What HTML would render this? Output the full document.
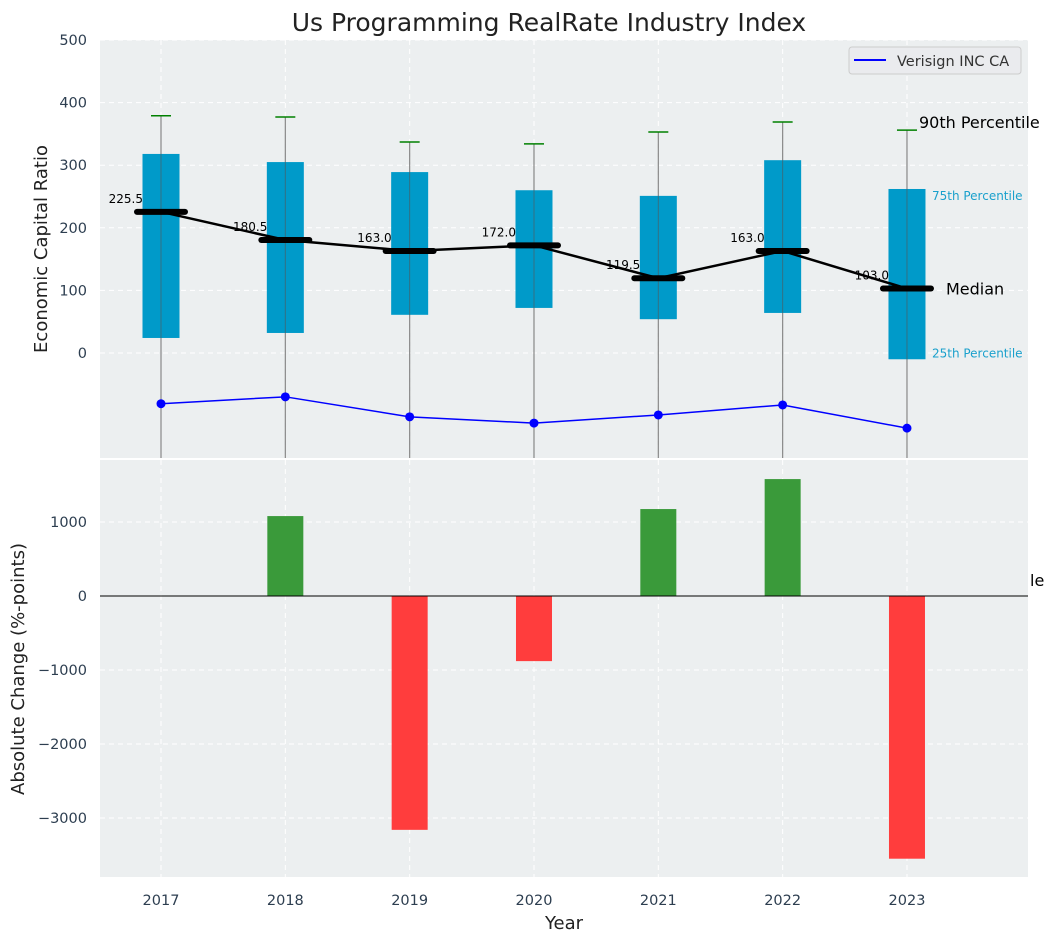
<!DOCTYPE html>
<html><head><meta charset="utf-8"><style>
body{margin:0;background:#fff;font-family:"Liberation Sans","DejaVu Sans",sans-serif}
</style></head><body>
<svg id="c" width="1054" height="942" xmlns="http://www.w3.org/2000/svg" font-family="DejaVu Sans, Liberation Sans, sans-serif"></svg>
<script>
const years=["2017","2018","2019","2020","2021","2022","2023"];
const q25=[24,32,61,72,54,64,-10];
const q75=[318,305,289,260,251,308,262];
const p90=[379,377,337,334,353,369,356];
const medians=[225.5,180.5,163.0,172.0,119.5,163.0,103.0];
const verisign=[-81,-70,-102,-112,-99,-83,-120];
const changes=[0,1080,-3160,-880,1175,1580,-3550];
const topTicks=[0,100,200,300,400,500];
const botTicks=[-3000,-2000,-1000,0,1000];

const svg=document.getElementById('c');
const NS='http://www.w3.org/2000/svg';
function mk(t,a,p){const e=document.createElementNS(NS,t);for(const k in a)e.setAttribute(k,a[k]);(p||svg).appendChild(e);return e;}
const L=100,R=1028;
const x=i=>161+i*124.33;
const yT=v=>353-v*0.626;
const yB=v=>596-v*0.074;
const T0=40,T1=458,B0=460,B1=877;

let e=mk('rect',{x:L,y:T0,width:R-L,height:T1-T0,fill:'#eceff0'});

e=mk('rect',{x:L,y:B0,width:R-L,height:B1-B0,fill:'#eceff0'});


years.forEach((y,i)=>{
 mk('line',{x1:x(i),x2:x(i),y1:T0,y2:T1,stroke:'#fff','stroke-dasharray':'5,4','stroke-width':1});
 mk('line',{x1:x(i),x2:x(i),y1:B0,y2:B1,stroke:'#fff','stroke-dasharray':'5,4','stroke-width':1});
 e=mk('text',{x:x(i),y:905,'text-anchor':'middle','font-size':14.5,fill:'#2d3e50'});e.textContent=y;
 
});
topTicks.forEach(v=>{
 mk('line',{x1:L,x2:R,y1:yT(v),y2:yT(v),stroke:'#fff','stroke-dasharray':'5,4'});
 e=mk('text',{x:87,y:yT(v)+5,'text-anchor':'end','font-size':14.5,fill:'#2d3e50'});e.textContent=v;
 
});
botTicks.forEach(v=>{
 mk('line',{x1:L,x2:R,y1:yB(v),y2:yB(v),stroke:'#fff','stroke-dasharray':'5,4'});
 e=mk('text',{x:87,y:yB(v)+5,'text-anchor':'end','font-size':14.5,fill:'#2d3e50'});e.textContent=String(v).replace('-','−');
 
});

const defs=mk('defs',{});
const cp=mk('clipPath',{id:'tc'},defs);mk('rect',{x:L,y:T0,width:R-L,height:T1-T0},cp);
const g=mk('g',{'clip-path':'url(#tc)'});
years.forEach((y,i)=>{
 e=mk('line',{x1:x(i),x2:x(i),y1:yT(p90[i]),y2:T1+10,stroke:'#888','stroke-width':1.2},g);
 
 e=mk('rect',{x:x(i)-18.5,y:yT(q75[i]),width:37,height:yT(q25[i])-yT(q75[i]),fill:'#009ac9'},g);
 
 mk('line',{x1:x(i),x2:x(i),y1:yT(q75[i]),y2:yT(q25[i]),stroke:'#555','stroke-width':1,opacity:0.6},g);
 e=mk('line',{x1:x(i)-10,x2:x(i)+10,y1:yT(p90[i]),y2:yT(p90[i]),stroke:'green','stroke-width':1.5},g);
 
});
e=mk('polyline',{points:medians.map((m,i)=>x(i)+','+yT(m)).join(' '),fill:'none',stroke:'#000','stroke-width':2.5},g);

medians.forEach((m,i)=>{
 e=mk('line',{x1:x(i)-24,x2:x(i)+24,y1:yT(m),y2:yT(m),stroke:'#000','stroke-width':6,'stroke-linecap':'round'},g);
 
 e=mk('text',{x:x(i)-18,y:yT(m)-9,'text-anchor':'end','font-size':12,fill:'#000'},g);e.textContent=m.toFixed(1);
 
});
e=mk('polyline',{points:verisign.map((v,i)=>x(i)+','+yT(v)).join(' '),fill:'none',stroke:'#0000ff','stroke-width':1.5},g);

verisign.forEach((v,i)=>{e=mk('circle',{cx:x(i),cy:yT(v),r:4.5,fill:'#0000ff'},g);
 });

const last=6;
[[x(last)+12,yT(p90[last])-2,'90th Percentile',16,'#000'],[x(last)+25,yT(q75[last])+11,'75th Percentile',12,'#1aa0cc'],
 [x(last)+39,yT(medians[last])+6,'Median',16,'#000'],[x(last)+25,yT(q25[last])-2,'25th Percentile',12,'#1aa0cc'],[1030,586,'le',16,'#000']]
.forEach(a=>{e=mk('text',{x:a[0],y:a[1],'font-size':a[3],fill:a[4]});e.textContent=a[2];
 });

years.forEach((y,i)=>{const v=changes[i];
 e=mk('rect',{x:x(i)-18,y:Math.min(yB(v),yB(0)),width:36,height:Math.abs(yB(v)-yB(0)),fill:v>=0?'#3a9a3a':'#ff3d3d'});
 
});
mk('line',{x1:L,x2:R,y1:yB(0),y2:yB(0),stroke:'#000','stroke-width':1});

e=mk('rect',{x:849,y:47,width:172,height:27,rx:3,fill:'#eaebee',stroke:'#ccc'});

mk('line',{x1:854,x2:886,y1:60,y2:60,stroke:'#0000ff','stroke-width':2});
e=mk('text',{x:897,y:66,'font-size':14.5,fill:'#333'});e.textContent='Verisign INC CA';


e=mk('text',{x:549,y:31,'text-anchor':'middle','font-size':25,fill:'#222'});e.textContent='Us Programming RealRate Industry Index';

e=mk('text',{x:564,y:929,'text-anchor':'middle','font-size':18,fill:'#222'});e.textContent='Year';

e=mk('text',{x:0,y:0,'text-anchor':'middle','font-size':18,fill:'#222',transform:'translate(47,249) rotate(-90)'});e.textContent='Economic Capital Ratio';

e=mk('text',{x:0,y:0,'text-anchor':'middle','font-size':18,fill:'#222',transform:'translate(24,669) rotate(-90)'});e.textContent='Absolute Change (%-points)';

</script>
</body></html>
